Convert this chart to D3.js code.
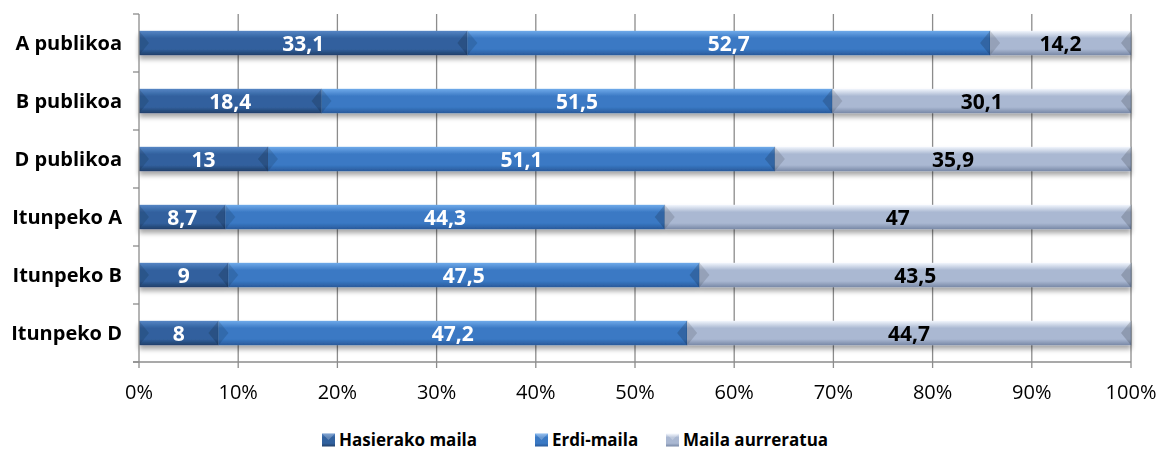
<!DOCTYPE html>
<html>
<head>
<meta charset="utf-8">
<script src="https://cdn.jsdelivr.net/npm/d3@7"></script>
<style>
  body { margin: 0; background: #fff; }
  svg { font-family: "Open Sans", sans-serif; }
</style>
</head>
<body>
<svg id="chart"></svg>
<script>
// categories and values (percent)
const schools = ["A publikoa", "B publikoa", "D publikoa", "Itunpeko A", "Itunpeko B", "Itunpeko D"];
const levels = ["Hasierako maila", "Erdi-maila", "Maila aurreratua"];
const hasierako = [33.1, 18.4, 13, 8.7, 9, 8];
const erdi = [52.7, 51.5, 51.1, 44.3, 47.5, 47.2];
const aurreratua = [14.2, 30.1, 35.9, 47, 43.5, 44.7];
const xTicks = [0, 0.1, 0.2, 0.3, 0.4, 0.5, 0.6, 0.7, 0.8, 0.9, 1];

const W = 1167, H = 450;
const margin = {top: 14, right: 36, bottom: 88, left: 139};
const width = W - margin.left - margin.right,
      height = H - margin.top - margin.bottom;

const svg = d3.select("#chart").attr("width", W).attr("height", H);

// gradients for bevelled bars
const palette = [
  {id: "g0", top: "#5585c4", mid: "#31619e", bot: "#213f69", label: "#fff"},
  {id: "g1", top: "#70aaea", mid: "#3a79c4", bot: "#28599a", label: "#fff"},
  {id: "g2", top: "#f2f6fd", mid: "#aab8d2", bot: "#7888a6", label: "#000"}
];
const defs = svg.append("defs");
palette.forEach(p => {
  const g = defs.append("linearGradient").attr("id", p.id)
    .attr("x1", 0).attr("y1", 0).attr("x2", 0).attr("y2", 1);
  g.append("stop").attr("offset", "0%").attr("stop-color", p.top);
  g.append("stop").attr("offset", "30%").attr("stop-color", p.mid);
  g.append("stop").attr("offset", "75%").attr("stop-color", p.mid);
  g.append("stop").attr("offset", "100%").attr("stop-color", p.bot);
});
const shadow = defs.append("filter").attr("id", "shadow")
  .attr("x", "-5%").attr("y", "-50%").attr("width", "110%").attr("height", "200%");
shadow.append("feGaussianBlur").attr("in", "SourceAlpha").attr("stdDeviation", 2.5).attr("result", "b");
shadow.append("feOffset").attr("in", "b").attr("dy", 4).attr("result", "o");
shadow.append("feComponentTransfer").attr("in", "o").attr("result", "s")
  .append("feFuncA").attr("type", "linear").attr("slope", 0.35);
const fm = shadow.append("feMerge");
fm.append("feMergeNode").attr("in", "s");
fm.append("feMergeNode").attr("in", "SourceGraphic");

const g = svg.append("g").attr("transform", `translate(${margin.left},${margin.top})`);

const x = d3.scaleLinear().domain([0, 1]).range([0, width]);
const y = d3.scaleBand().domain(schools).range([0, height]).paddingInner(0.58).paddingOuter(0.29);

// gridlines
g.append("g").selectAll("line").data(xTicks.slice(1)).join("line")
  .attr("x1", d => x(d)).attr("x2", d => x(d))
  .attr("y1", 0).attr("y2", height + 6)
  .attr("stroke", "#8c8c8c").attr("stroke-width", 1.3);

// stacked data
const rows = schools.map((s, i) => ({school: s, v: [hasierako[i], erdi[i], aurreratua[i]]}));
const segs = [];
rows.forEach(r => {
  const tot = d3.sum(r.v);
  let acc = 0;
  r.v.forEach((v, k) => {
    segs.push({school: r.school, k, v, x0: acc / tot, x1: (acc + v) / tot});
    acc += v;
  });
});

const barG = g.append("g").attr("filter", "url(#shadow)");
const bh = y.bandwidth();
const bev = Math.min(10, bh / 2);

const seg = barG.selectAll("g.seg").data(segs).join("g").attr("class", "seg")
  .attr("transform", d => `translate(${x(d.x0)},${y(d.school)})`);
seg.append("rect")
  .attr("width", d => x(d.x1) - x(d.x0))
  .attr("height", bh)
  .attr("fill", d => `url(#${palette[d.k].id})`);
// left bevel
seg.append("path")
  .attr("d", `M0,0 L${bev},${bh / 2} L0,${bh} Z`)
  .attr("fill", "#000").attr("opacity", 0.12);
// right bevel
seg.append("path")
  .attr("d", d => { const w = x(d.x1) - x(d.x0); return `M${w},0 L${w - bev},${bh / 2} L${w},${bh} Z`; })
  .attr("fill", "#000").attr("opacity", 0.16);
// segment edge line
seg.append("line")
  .attr("x1", d => x(d.x1) - x(d.x0)).attr("x2", d => x(d.x1) - x(d.x0))
  .attr("y1", 0).attr("y2", bh)
  .attr("stroke", "#1d3557").attr("stroke-opacity", 0.35);

// data labels
g.append("g").selectAll("text").data(segs).join("text")
  .attr("x", d => x((d.x0 + d.x1) / 2))
  .attr("y", d => y(d.school) + bh / 2)
  .attr("dy", "0.36em")
  .attr("text-anchor", "middle")
  .attr("font-size", 21).attr("font-weight", 700)
  .attr("fill", d => palette[d.k].label)
  .text(d => String(d.v).replace(".", ","));

// left axis
const yAxis = g.append("g");
yAxis.append("line").attr("x1", 0).attr("x2", 0).attr("y1", 0).attr("y2", height + 6)
  .attr("stroke", "#8c8c8c").attr("stroke-width", 1.3);
const bounds = d3.range(schools.length + 1).map(i => i * height / schools.length);
yAxis.selectAll("line.tk").data(bounds).join("line").attr("class", "tk")
  .attr("x1", -6).attr("x2", 0).attr("y1", d => d).attr("y2", d => d)
  .attr("stroke", "#8c8c8c").attr("stroke-width", 1.3);
yAxis.selectAll("text").data(schools).join("text")
  .attr("x", -17).attr("y", d => y(d) + bh / 2).attr("dy", "0.36em")
  .attr("text-anchor", "end").attr("font-size", 20).attr("font-weight", 700)
  .text(d => d);

// bottom axis
g.append("line").attr("x1", -6).attr("x2", width).attr("y1", height).attr("y2", height)
  .attr("stroke", "#8c8c8c").attr("stroke-width", 1.3);
g.append("g").selectAll("text").data(xTicks).join("text")
  .attr("x", d => x(d)).attr("y", height + 37)
  .attr("text-anchor", "middle").attr("font-size", 20)
  .text(d => d3.format(".0%")(d));

// legend
const legendX = [322, 535, 666];
const lg = svg.append("g").selectAll("g").data(levels).join("g")
  .attr("transform", (d, i) => `translate(${legendX[i]},440)`);
lg.append("rect").attr("x", 0).attr("y", -6.5).attr("width", 13).attr("height", 13)
  .attr("fill", (d, i) => `url(#${palette[i].id})`);
lg.append("path").attr("d", "M0,-6.5 L6.5,0 L13,-6.5 Z").attr("fill", "#fff").attr("opacity", 0.25);
lg.append("text").attr("x", 17).attr("dy", "0.36em")
  .attr("font-size", 17).attr("font-weight", 700)
  .text(d => d);
</script>
</body>
</html>
